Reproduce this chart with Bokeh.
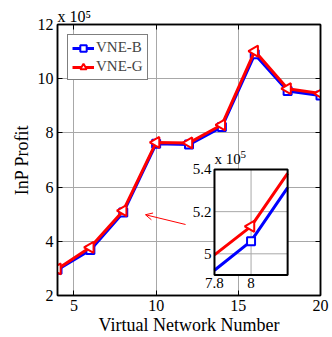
import numpy as np
from bokeh.plotting import figure
from bokeh.models import Range1d, FixedTicker, LinearAxis, Arrow, OpenHead, Legend, LegendItem
from bokeh.core.properties import value
from bokeh.embed import file_html
from bokeh.resources import INLINE

# ---- data (values in units of 1e5) ----
vn_number = [4, 6, 8, 10, 12, 14, 16, 18, 20]
vne_b = [2.95, 3.68, 5.06, 7.60, 7.57, 8.22, 10.90, 9.55, 9.38]
vne_g = [2.98, 3.78, 5.13, 7.65, 7.63, 8.30, 11.02, 9.63, 9.45]
x_ticks = [5, 10, 15, 20]
y_ticks = [2, 4, 6, 8, 10, 12]
inset_x_ticks = [7.8, 8]
inset_y_ticks = [5, 5.2, 5.4]
inset_x_lim = (7.8, 8.2)
inset_y_lim = (4.9, 5.4)

FONT = "Liberation Serif"
BLUE = "#0000ff"
RED = "#ff0000"
GRID = "#a8a8a8"

p = figure(width=332, height=337, x_range=Range1d(4, 20), y_range=Range1d(2, 12),
           output_backend="svg", toolbar_location=None,
           min_border_left=57, min_border_right=12, min_border_top=24, min_border_bottom=38)
p.background_fill_color = "white"
p.border_fill_color = "white"
p.outline_line_color = "black"
p.outline_line_width = 1.5

# exponent of the main y axis, shown above the frame
p.title.text = "x 10\u2075"
p.title.align = "left"
p.title.text_font = FONT
p.title.text_font_size = "16px"
p.title.text_font_style = "normal"
p.title.text_color = "black"
p.title.standoff = 0
p.title.offset = 0

for ax in (p.xaxis[0], p.yaxis[0]):
    ax.major_tick_in = 5
    ax.major_tick_out = 0
    ax.minor_tick_in = 0
    ax.minor_tick_out = 0
    ax.axis_line_color = "black"
    ax.axis_line_width = 1.5
    ax.major_tick_line_color = "black"
    ax.major_label_text_font = FONT
    ax.major_label_text_font_size = "16px"
    ax.major_label_text_color = "black"
    ax.axis_label_text_font = FONT
    ax.axis_label_text_font_size = "18px"
    ax.axis_label_text_font_style = "normal"
    ax.axis_label_text_color = "black"

p.xaxis[0].ticker = FixedTicker(ticks=x_ticks)
p.yaxis[0].ticker = FixedTicker(ticks=y_ticks)
p.xaxis[0].axis_label = "Virtual Network Number"
p.yaxis[0].axis_label = "InP Profit"
p.xaxis[0].major_label_standoff = 4
p.yaxis[0].major_label_standoff = 4
p.xaxis[0].axis_label_standoff = 1
p.yaxis[0].axis_label_standoff = 3

for loc, tick in (("right", y_ticks), ("above", x_ticks)):
    ax = LinearAxis(ticker=FixedTicker(ticks=tick))
    ax.major_tick_in = 5
    ax.major_tick_out = 0
    ax.minor_tick_in = 0
    ax.minor_tick_out = 0
    ax.major_label_text_font_size = "0px"
    ax.major_label_standoff = 0
    ax.axis_line_width = 1.5
    p.add_layout(ax, loc)

p.xgrid.ticker = FixedTicker(ticks=x_ticks)
p.ygrid.ticker = FixedTicker(ticks=y_ticks)
p.grid.grid_line_color = GRID
p.grid.grid_line_width = 1

# main series
lb = p.line(vn_number, vne_b, line_color=BLUE, line_width=3)
sb = p.scatter(vn_number, vne_b, marker="square", size=8, line_color=BLUE, line_width=2, fill_color="white")
lg = p.line(vn_number, vne_g, line_color=RED, line_width=3)
sg = p.scatter(vn_number, vne_g, marker="triangle", angle=np.pi / 2, size=11,
               line_color=RED, line_width=2, fill_color="white")

legend = Legend(items=[LegendItem(label="VNE-B", renderers=[lb, sb]),
                       LegendItem(label="VNE-G", renderers=[lg, sg])],
                location="top_left", margin=10, padding=4, spacing=2,
                glyph_width=22, glyph_height=16, label_standoff=2,
                label_text_font=FONT, label_text_font_size="15px",
                border_line_color="black", border_line_width=1.5,
                background_fill_alpha=1)
p.add_layout(legend)

# arrow pointing to the zoomed region
arrow_tail = (11.79, 4.62)
arrow_head = (9.35, 4.98)
p.add_layout(Arrow(x_start=arrow_tail[0], y_start=arrow_tail[1], x_end=arrow_head[0], y_end=arrow_head[1],
                   line_color=RED, line_width=1,
                   end=OpenHead(size=7, line_color=RED, line_width=1)))

# ---- inset ----
inset_target_x = Range1d(13.55, 18.0)
inset_target_y = Range1d(2.76, 6.65)
sub = p.subplot(x_source=Range1d(*inset_x_lim), y_source=Range1d(*inset_y_lim),
                x_target=inset_target_x, y_target=inset_target_y)

sub.quad(left=inset_x_lim[0], right=inset_x_lim[1], bottom=inset_y_lim[0], top=inset_y_lim[1],
         fill_color="white", line_color=None)
# inset grid
sub.segment(x0=[inset_x_ticks[1]], x1=[inset_x_ticks[1]], y0=[inset_y_lim[0]], y1=[inset_y_lim[1]],
            line_color=GRID, line_width=1)
sub.segment(x0=[inset_x_lim[0]] * 2, x1=[inset_x_lim[1]] * 2, y0=inset_y_ticks[:2], y1=inset_y_ticks[:2],
            line_color=GRID, line_width=1)


def clip(xs, ys, lo, hi):
    xs = np.asarray(xs, float)
    ys = np.asarray(ys, float)
    inside = (xs > lo) & (xs < hi)
    cx = [lo] + list(xs[inside]) + [hi]
    cy = [np.interp(lo, xs, ys)] + list(ys[inside]) + [np.interp(hi, xs, ys)]
    return cx, cy, xs[inside], ys[inside]


bx, by, bmx, bmy = clip(vn_number, vne_b, *inset_x_lim)
gx, gy, gmx, gmy = clip(vn_number, vne_g, *inset_x_lim)
sub.line(bx, by, line_color=BLUE, line_width=3)
sub.scatter(bmx, bmy, marker="square", size=8, line_color=BLUE, line_width=2, fill_color="white")
sub.line(gx, gy, line_color=RED, line_width=3)
sub.scatter(gmx, gmy, marker="triangle", angle=np.pi / 2, size=11, line_color=RED, line_width=2, fill_color="white")

sub.quad(left=inset_x_lim[0], right=inset_x_lim[1], bottom=inset_y_lim[0], top=inset_y_lim[1],
         fill_color=None, line_color="black", line_width=2)

fmt = lambda v: f"{v:g}"
sub.text(x=inset_x_ticks, y=[inset_y_lim[0]] * len(inset_x_ticks), text=[fmt(v) for v in inset_x_ticks],
         text_font=value(FONT), text_font_size="15px", text_align="center", text_baseline="top",
         y_offset=3, text_color="black")
sub.text(x=[inset_x_lim[0]] * len(inset_y_ticks), y=inset_y_ticks, text=[fmt(v) for v in inset_y_ticks],
         text_font=value(FONT), text_font_size="15px", text_align="right", text_baseline="middle",
         x_offset=-3, text_color="black")
sub.text(x=[inset_x_lim[0]], y=[inset_y_lim[1]], text=["x 10"],
         text_font=value(FONT), text_font_size="15px", text_align="left", text_baseline="bottom",
         y_offset=-2, text_color="black")
sub.text(x=[inset_x_lim[0]], y=[inset_y_lim[1]], text=["5"],
         text_font=value(FONT), text_font_size="11px", text_align="left", text_baseline="bottom",
         x_offset=26, y_offset=-11, text_color="black")

open("out.html", "w").write(file_html(p, INLINE))
